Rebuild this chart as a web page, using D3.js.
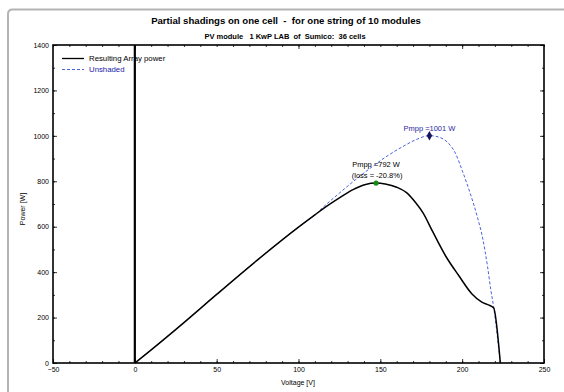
<!DOCTYPE html>
<html>
<head>
  <meta charset="utf-8">
  <title>Partial shadings on one cell</title>
  <style>
    body { margin: 0; background: #fff; }
    svg { font-family: "Liberation Sans", Arial, sans-serif; }
    .tick text { font-size: 7px; }
  </style>
</head>
<body>
  <svg id="chart" width="564" height="392"></svg>

  <script src="https://d3js.org/d3.v7.min.js"></script>
  <script>
    // Resulting array power (one cell partially shaded): voltage V / power W
    const shadedV = [0, 10, 30, 50, 75, 100, 110, 116, 125, 133, 141, 147.4,
                     153, 160, 166, 172, 176, 182, 190, 198, 206, 212, 216, 219.2, 223.3];
    const shadedP = [0, 58, 178, 302, 454, 598, 652, 684, 727, 762, 786, 792,
                     788, 774, 750, 702, 662, 578, 470, 384, 304, 268, 256, 243, 0];

    // Unshaded reference curve
    const unshadedV = [0, 10, 30, 50, 75, 100, 110, 116, 125, 135, 145, 155, 165, 172, 180,
                       186, 191, 196, 200, 205, 209, 212.5, 215.5, 217.5, 219.2, 223.3];
    const unshadedP = [0, 58, 178, 302, 454, 598, 652, 692, 748, 808, 864, 915, 958, 984, 1001,
                       994, 972, 922, 848, 745, 650, 550, 425, 322, 248, 0];

    const mppShaded = { v: 147.4, p: 792, label: ['Pmpp =792 W', '(loss = -20.8%)'] };
    const mppUnshaded = { v: 180, p: 1001, label: 'Pmpp =1001 W' };

    const xDomain = [-50, 250];
    const yDomain = [0, 1400];
    const xMajor = [-50, 0, 50, 100, 150, 200, 250];
    const yMajor = [0, 200, 400, 600, 800, 1000, 1200, 1400];

    const svg = d3.select('#chart');
    const pl = 53, pr = 544, pt = 45, pb = 363;

    const x = d3.scaleLinear().domain(xDomain).range([pl, pr]);
    const y = d3.scaleLinear().domain(yDomain).range([pb, pt]);

    // grey outer frame
    svg.append('path')
      .attr('d', 'M8,392 L8,14 Q8,9.5 12.5,9.5 L564,9.5')
      .attr('fill', 'none').attr('stroke', '#b4b4b4').attr('stroke-width', 2);

    // titles
    svg.append('text').attr('x', 286).attr('y', 24).attr('text-anchor', 'middle')
      .attr('font-size', 9.6).attr('font-weight', 'bold')
      .style('white-space', 'pre')
      .text('Partial shadings on one cell  -  for one string of 10 modules');
    svg.append('text').attr('x', 285).attr('y', 39).attr('text-anchor', 'middle')
      .attr('font-size', 7.5).attr('font-weight', 'bold')
      .style('white-space', 'pre')
      .text('PV module   1 KwP LAB  of  Sumico:  36 cells');

    // axes: major ticks labelled, minor ticks unlabelled, all pointing inward
    const xMinor = d3.range(-50, 251, 10);
    const yMinor = d3.range(0, 1401, 100);
    const fmt = d3.format('d');

    const gx = svg.append('g').attr('transform', `translate(0,${pb})`);
    gx.call(d3.axisBottom(x).tickValues(xMinor).tickSize(-2).tickFormat(''));
    const gxm = gx.append('g').call(d3.axisBottom(x).tickValues(xMajor).tickSize(-4).tickFormat(fmt));
    const gxt = svg.append('g').attr('transform', `translate(0,${pt})`);
    gxt.call(d3.axisTop(x).tickValues(xMinor).tickSize(-2).tickFormat(''));
    gxt.append('g').call(d3.axisTop(x).tickValues([0, 100, 200]).tickSize(-4).tickFormat(''));

    const gy = svg.append('g').attr('transform', `translate(${pl},0)`);
    gy.call(d3.axisLeft(y).tickValues(yMinor).tickSize(-2).tickFormat(''));
    const gym = gy.append('g').call(d3.axisLeft(y).tickValues(yMajor).tickSize(-4).tickFormat(fmt));
    const gyr = svg.append('g').attr('transform', `translate(${pr},0)`);
    gyr.call(d3.axisRight(y).tickValues(yMinor).tickSize(-2).tickFormat(''));
    gyr.append('g').call(d3.axisRight(y).tickValues(yMajor).tickSize(-4).tickFormat(''));

    svg.selectAll('.domain').remove();
    svg.selectAll('.tick line').attr('stroke', '#000').attr('stroke-width', 0.8);
    svg.selectAll('.tick text').attr('fill', '#000');
    // labels sit outside the frame, ticks inside
    gym.selectAll('.tick text').attr('x', -4);
    gxm.selectAll('.tick text').attr('y', 4);

    // plot frame
    svg.append('rect').attr('x', pl).attr('y', pt)
      .attr('width', pr - pl).attr('height', pb - pt)
      .attr('fill', 'none').attr('stroke', '#000').attr('stroke-width', 1.6);

    // axis titles
    svg.append('text').attr('x', 298).attr('y', 385).attr('text-anchor', 'middle')
      .attr('font-size', 7).text('Voltage [V]');
    svg.append('text').attr('transform', 'translate(25,209) rotate(-90)')
      .attr('text-anchor', 'middle').attr('font-size', 7).text('Power [W]');

    // zero-voltage line
    svg.append('line').attr('x1', x(0)).attr('x2', x(0)).attr('y1', y(0)).attr('y2', y(1400))
      .attr('stroke', '#000').attr('stroke-width', 2.2);

    const line = d3.line().x(d => x(d[0])).y(d => y(d[1])).curve(d3.curveMonotoneX);

    svg.append('path').datum(d3.zip(unshadedV, unshadedP))
      .attr('d', line).attr('fill', 'none')
      .attr('stroke', '#4a62dc').attr('stroke-width', 1).attr('stroke-dasharray', '3,2');

    svg.append('path').datum(d3.zip(shadedV, shadedP))
      .attr('d', line).attr('fill', 'none')
      .attr('stroke', '#000').attr('stroke-width', 1.5);

    // MPP markers
    svg.append('circle').attr('cx', x(mppShaded.v)).attr('cy', y(mppShaded.p)).attr('r', 2.6)
      .attr('fill', '#148c14');
    svg.append('path').attr('d', d3.symbol(d3.symbolDiamond, 26)())
      .attr('transform', `translate(${x(mppUnshaded.v)},${y(mppUnshaded.p)})`)
      .attr('fill', '#151560');

    svg.append('text').attr('x', x(mppShaded.v)).attr('y', y(mppShaded.p) - 16)
      .attr('text-anchor', 'middle').attr('font-size', 7.5).text(mppShaded.label[0]);
    svg.append('text').attr('x', x(mppShaded.v) + 1).attr('y', y(mppShaded.p) - 5)
      .attr('text-anchor', 'middle').attr('font-size', 7.5).text(mppShaded.label[1]);
    svg.append('text').attr('x', x(mppUnshaded.v)).attr('y', y(mppUnshaded.p) - 5)
      .attr('text-anchor', 'middle').attr('font-size', 7.5).attr('fill', '#2a2aa0')
      .text(mppUnshaded.label);

    // legend
    const legend = [
      { name: 'Resulting Array power', color: '#000', text: '#000', dash: null },
      { name: 'Unshaded', color: '#4a62dc', text: '#2222aa', dash: '3,2' }
    ];
    legend.forEach((d, i) => {
      const ly = 58.5 + i * 11;
      svg.append('line').attr('x1', 62).attr('x2', 84).attr('y1', ly).attr('y2', ly)
        .attr('stroke', d.color).attr('stroke-width', d.dash ? 1 : 1.3)
        .attr('stroke-dasharray', d.dash);
      svg.append('text').attr('x', 89).attr('y', ly + 2.7).attr('font-size', 7.8)
        .attr('fill', d.text).text(d.name);
    });
  </script>
</body>
</html>
